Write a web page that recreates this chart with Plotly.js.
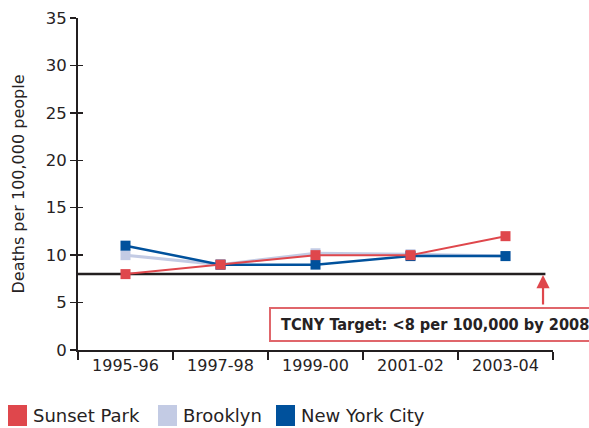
<!DOCTYPE html>
<html><head><meta charset="utf-8">
<script src="https://cdn.plot.ly/plotly-3.0.1.min.js"></script>
<style>html,body{margin:0;padding:0;background:#fff}#chart{width:589px;height:428px}</style>
</head><body><div id="chart"></div>
<script>
const categories = ['1995-96','1997-98','1999-00','2001-02','2003-04'];
const seriesNames = ['Sunset Park','Brooklyn','New York City'];
const sunsetPark = [8, 9, 10, 10, 12];
const brooklyn = [10, 9, 10.2, 10.1, 9.9];
const newYorkCity = [11, 9, 9, 9.9, 9.9];
const targetValue = 8;
const targetLabel = 'TCNY Target: <8 per 100,000 by 2008';
const yTicks = [0,5,10,15,20,25,30,35];

const colors = {'Sunset Park':'#df474c','Brooklyn':'#c3cbe4','New York City':'#00519c'};
const font = 'DejaVu Sans, sans-serif';
const txt = '#262223';

// plot area geometry (px)
const L = 78, T = 18, W = 475, H = 332;
const px = x => (x - L) / W;
const py = y => (T + H - y) / H;

function tr(name, vals, width) {
  return {x: categories, y: vals, type: 'scatter', mode: 'lines+markers', name: name,
    line: {color: colors[name], width: width},
    marker: {symbol: 'square', size: 10, color: colors[name]},
    showlegend: false, hoverinfo: 'skip'};
}
const data = [
  tr('Brooklyn', brooklyn, 3),
  tr('New York City', newYorkCity, 2.5),
  tr('Sunset Park', sunsetPark, 2),
  {x: categories, y: sunsetPark.map(() => null), yaxis: 'y2', type: 'scatter', showlegend: false, hoverinfo: 'skip'}
];

const shapes = [
  {type: 'line', xref: 'x', yref: 'y', x0: -0.5, x1: categories.length - 0.58, y0: targetValue, y1: targetValue,
   line: {color: '#231f20', width: 2.5}, layer: 'below'},
  {type: 'rect', xref: 'paper', yref: 'paper', x0: px(270), x1: px(600), y0: py(341), y1: py(308),
   line: {color: '#e0666b', width: 2}, fillcolor: '#ffffff'}
];
const annotations = [
  {xref: 'paper', yref: 'paper', x: px(279), y: py(324.5), xanchor: 'left', yanchor: 'middle',
   text: '<b>' + targetLabel.replace('<', '&lt;') + '</b>', showarrow: false,
   font: {family: 'DejaVu Sans Condensed, DejaVu Sans, sans-serif', size: 16.2, color: txt}},
  {xref: 'x', yref: 'y', x: categories.length - 0.605, y: targetValue, ax: 0, ay: 32, axref: 'pixel', ayref: 'pixel',
   showarrow: true, arrowhead: 2, arrowsize: 1.2, arrowwidth: 2.2, arrowcolor: '#df474c', text: '', standoff: 1}
];
// legend built from series names/colors
const legendPos = [8, 158, 276];
seriesNames.forEach((n, i) => {
  shapes.push({type: 'rect', xref: 'paper', yref: 'paper', x0: px(legendPos[i]), x1: px(legendPos[i] + 19),
    y0: py(426), y1: py(405), line: {width: 0}, fillcolor: colors[n]});
  annotations.push({xref: 'paper', yref: 'paper', x: px(legendPos[i] + 23), y: py(415), xanchor: 'left', yanchor: 'middle',
    text: n, showarrow: false, font: {family: font, size: 18, color: txt}});
});

const layout = {
  width: 589, height: 428,
  margin: {l: L, r: 589 - L - W, t: T, b: 428 - T - H},
  paper_bgcolor: '#fff', plot_bgcolor: '#fff',
  showlegend: false,
  font: {family: font, color: txt, size: 15},
  xaxis: {type: 'category', range: [-0.5, categories.length - 0.5], tickson: 'boundaries',
    ticks: 'outside', ticklen: 8, tickwidth: 1.5, tickcolor: '#231f20',
    showline: true, linecolor: '#231f20', linewidth: 2, showgrid: false, zeroline: false,
    tickfont: {size: 16, color: txt}, fixedrange: true},
  yaxis: {range: [0, 35], tickvals: yTicks, ticks: 'outside', ticklen: 6, tickwidth: 1.5, tickcolor: '#231f20',
    showline: true, linecolor: '#231f20', linewidth: 2, showgrid: false, zeroline: false,
    tickfont: {size: 16.5, color: txt},
    title: {text: 'Deaths per 100,000 people', font: {size: 16, color: txt}, standoff: 17}, fixedrange: true},
  yaxis2: {overlaying: 'y', side: 'left', range: [0, 35], tickvals: yTicks, ticks: 'inside', ticklen: 5, tickwidth: 1.5,
    tickcolor: '#231f20', showticklabels: false, showline: false, showgrid: false, zeroline: false, fixedrange: true},
  shapes: shapes, annotations: annotations
};
Plotly.newPlot('chart', data, layout, {displayModeBar: false, staticPlot: true});
</script></body></html>
